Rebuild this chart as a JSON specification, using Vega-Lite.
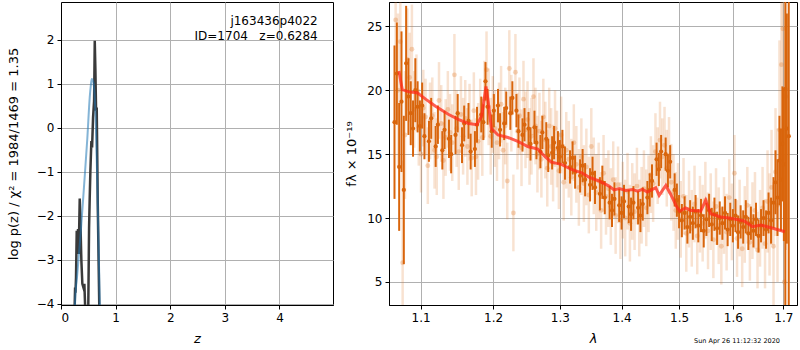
{
"$schema": "https://vega.github.io/schema/vega-lite/v6.json",
"padding": {"left": 6, "top": 1, "right": 2, "bottom": 2},
"background": "white",
"spacing": 56,
"bounds": "flush",
"config": {
 "font": "DejaVu Sans",
 "view": {"stroke": "black", "strokeWidth": 1},
 "axis": {"domainColor": "black", "tickColor": "black", "tickSize": 4, "labelFontSize": 12, "labelColor": "black", "titleFontSize": 13, "titleFontWeight": "normal", "titleColor": "black", "gridColor": "#b0b0b0", "gridOpacity": 1, "gridWidth": 1, "labelPadding": 3}
},
"datasets": {
 "chi": [
  {"z":0.24,"v":-6},{"z":0.251,"v":-4.0},{"z":0.258,"v":-3.63},{"z":0.265,"v":-3.75},{"z":0.275,"v":-3.4},{"z":0.288,"v":-2.34},{"z":0.30,"v":-2.87},{"z":0.312,"v":-2.3},{"z":0.324,"v":-2.87},{"z":0.343,"v":-1.61},{"z":0.355,"v":-2.11},{"z":0.373,"v":-3.02},{"z":0.391,"v":-3.55},{"z":0.41,"v":-3.63},{"z":0.428,"v":-3.55},{"z":0.44,"v":-4.0},{"z":0.45,"v":-5.5},{"z":0.49,"v":-5.5},{"z":0.50,"v":-4.0},{"z":0.514,"v":-2.27},{"z":0.526,"v":-1.58},{"z":0.538,"v":-0.98},{"z":0.556,"v":-0.3},{"z":0.569,"v":-0.45},{"z":0.587,"v":0.23},{"z":0.606,"v":0.61},{"z":0.618,"v":1.98},{"z":0.63,"v":1.3},{"z":0.642,"v":0.39},{"z":0.654,"v":0.46},{"z":0.673,"v":-1.73},{"z":0.70,"v":-4.0},{"z":0.71,"v":-6}
 ],
 "pz": [
  {"z":0.22,"v":-6},{"z":0.257,"v":-4.0},{"z":0.30,"v":-3.3},{"z":0.36,"v":-2.4},{"z":0.42,"v":-1.36},{"z":0.483,"v":-0.22},{"z":0.526,"v":0.69},{"z":0.545,"v":0.95},{"z":0.563,"v":1.107},{"z":0.585,"v":1.07},{"z":0.605,"v":0.92},{"z":0.636,"v":0.16},{"z":0.667,"v":-1.36},{"z":0.691,"v":-2.87},{"z":0.71,"v":-4.0},{"z":0.72,"v":-5}
 ],
 "lab": [
  {"z":4.7,"v":2.43,"t":"j163436p4022"},
  {"z":4.7,"v":2.09,"t":"ID=1704\u00a0\u00a0\u00a0z=0.6284"}
 ],
 "stamp": [{"l":1.608,"f":0.39,"t":"Sun Apr 26 11:12:32 2020"}],
 "model": [
  {"l":1.0717,"f":21.5},{"l":1.076,"f":20.05},{"l":1.0847,"f":19.87},{"l":1.0955,"f":19.8},{"l":1.1066,"f":19.3},{"l":1.1198,"f":18.75},{"l":1.1377,"f":18.1},{"l":1.1514,"f":17.7},{"l":1.1651,"f":17.4},{"l":1.1766,"f":17.3},{"l":1.1836,"f":17.97},{"l":1.1897,"f":20.3},{"l":1.1929,"f":19.1},{"l":1.1975,"f":17.0},{"l":1.207,"f":16.5},{"l":1.2216,"f":16.3},{"l":1.236,"f":16.0},{"l":1.251,"f":15.6},{"l":1.266,"f":15.4},{"l":1.2763,"f":14.84},{"l":1.2867,"f":14.37},{"l":1.3024,"f":14.2},{"l":1.3184,"f":13.8},{"l":1.3346,"f":13.54},{"l":1.346,"f":13.2},{"l":1.3625,"f":12.9},{"l":1.379,"f":12.5},{"l":1.3874,"f":12.2},{"l":1.396,"f":12.3},{"l":1.4072,"f":12.16},{"l":1.4185,"f":12.24},{"l":1.427,"f":12.1},{"l":1.4355,"f":12.24},{"l":1.4441,"f":12.03},{"l":1.4528,"f":12.24},{"l":1.4586,"f":12.37},{"l":1.4645,"f":11.77},{"l":1.4763,"f":12.55},{"l":1.4851,"f":11.85},{"l":1.495,"f":10.94},{"l":1.501,"f":10.55},{"l":1.5118,"f":10.8},{"l":1.521,"f":10.6},{"l":1.527,"f":10.6},{"l":1.5394,"f":10.55},{"l":1.5487,"f":11.4},{"l":1.558,"f":10.34},{"l":1.577,"f":10.08},{"l":1.596,"f":9.98},{"l":1.622,"f":9.77},{"l":1.638,"f":9.32},{"l":1.655,"f":9.45},{"l":1.675,"f":9.24},{"l":1.703,"f":8.93}
 ],
 "dark": [
  {"l":1.066,"f":17.5,"e":6},{"l":1.069,"f":21.3,"e":4},{"l":1.072,"f":14.0,"e":5},{"l":1.075,"f":19.1,"e":5.5},{"l":1.078,"f":12.2,"e":5.8},{"l":1.081,"f":22.1,"e":4.5},{"l":1.084,"f":19.5,"e":3},{"l":1.087,"f":18.2,"e":2.5},{"l":1.09,"f":17.0,"e":2.2},{"l":1.093,"f":20.0,"e":2.5},{"l":1.096,"f":18.7,"e":2},{"l":1.099,"f":17.2,"e":2},{"l":1.102,"f":18.8,"e":1.8},{"l":1.105,"f":16.4,"e":1.8},{"l":1.111,"f":16.0,"e":1.6},{"l":1.114,"f":17.8,"e":1.6},{"l":1.12,"f":15.6,"e":1.6},{"l":1.123,"f":17.3,"e":1.5},{"l":1.129,"f":15.3,"e":1.5},{"l":1.132,"f":16.9,"e":1.5},{"l":1.138,"f":16.2,"e":1.5},{"l":1.141,"f":15.0,"e":1.5},{"l":1.147,"f":16.5,"e":1.5},{"l":1.15,"f":18.2,"e":1.5},{"l":1.156,"f":15.7,"e":1.4},{"l":1.159,"f":17.4,"e":1.4},{"l":1.165,"f":17.6,"e":1.4},{"l":1.168,"f":15.2,"e":1.4},{"l":1.174,"f":15.4,"e":1.4},{"l":1.177,"f":17.3,"e":1.4},{"l":1.183,"f":18.1,"e":1.4},{"l":1.186,"f":17.5,"e":1.4},{"l":1.189,"f":20.7,"e":1.5},{"l":1.192,"f":18.7,"e":1.4},{"l":1.198,"f":16.8,"e":1.3},{"l":1.201,"f":18.4,"e":1.3},{"l":1.207,"f":18.8,"e":1.3},{"l":1.21,"f":16.9,"e":1.3},{"l":1.216,"f":17.4,"e":1.3},{"l":1.219,"f":18.6,"e":1.3},{"l":1.225,"f":18.2,"e":1.3},{"l":1.228,"f":19.4,"e":1.3},{"l":1.234,"f":18.4,"e":1.3},{"l":1.237,"f":16.8,"e":1.3},{"l":1.243,"f":16.5,"e":1.3},{"l":1.246,"f":17.3,"e":1.3},{"l":1.252,"f":17.0,"e":1.3},{"l":1.255,"f":15.8,"e":1.3},{"l":1.261,"f":17.1,"e":1.3},{"l":1.264,"f":15.9,"e":1.3},{"l":1.27,"f":15.2,"e":1.3},{"l":1.273,"f":16.7,"e":1.3},{"l":1.279,"f":16.2,"e":1.3},{"l":1.282,"f":14.9,"e":1.3},{"l":1.288,"f":15.1,"e":1.3},{"l":1.291,"f":15.9,"e":1.3},{"l":1.297,"f":15.5,"e":1.3},{"l":1.3,"f":14.8,"e":1.3},{"l":1.304,"f":15.6,"e":1.3},{"l":1.308,"f":14.3,"e":1.3},{"l":1.316,"f":14.0,"e":1.3},{"l":1.32,"f":14.7,"e":1.3},{"l":1.324,"f":13.6,"e":1.3},{"l":1.332,"f":13.3,"e":1.3},{"l":1.336,"f":14.1,"e":1.3},{"l":1.34,"f":13.0,"e":1.3},{"l":1.348,"f":12.6,"e":1.3},{"l":1.352,"f":13.5,"e":1.3},{"l":1.356,"f":12.4,"e":1.3},{"l":1.364,"f":11.9,"e":1.3},{"l":1.368,"f":12.8,"e":1.3},{"l":1.372,"f":11.6,"e":1.3},{"l":1.38,"f":11.2,"e":1.3},{"l":1.384,"f":10.6,"e":1.3},{"l":1.388,"f":11.5,"e":1.3},{"l":1.396,"f":11.0,"e":1.3},{"l":1.4,"f":10.4,"e":1.3},{"l":1.404,"f":11.3,"e":1.3},{"l":1.412,"f":10.9,"e":1.3},{"l":1.416,"f":10.3,"e":1.3},{"l":1.42,"f":11.2,"e":1.3},{"l":1.428,"f":10.8,"e":1.3},{"l":1.432,"f":10.2,"e":1.3},{"l":1.436,"f":11.1,"e":1.3},{"l":1.444,"f":11.6,"e":1.3},{"l":1.448,"f":12.2,"e":1.3},{"l":1.452,"f":12.9,"e":1.3},{"l":1.46,"f":14.6,"e":1.3},{"l":1.464,"f":13.8,"e":1.3},{"l":1.468,"f":15.2,"e":1.3},{"l":1.476,"f":15.0,"e":1.3},{"l":1.48,"f":13.7,"e":1.3},{"l":1.484,"f":14.4,"e":1.3},{"l":1.492,"f":12.2,"e":1.3},{"l":1.496,"f":11.4,"e":1.3},{"l":1.5,"f":10.5,"e":1.3},{"l":1.505,"f":9.8,"e":1.3},{"l":1.51,"f":10.4,"e":1.3},{"l":1.515,"f":9.3,"e":1.3},{"l":1.52,"f":10.1,"e":1.3},{"l":1.525,"f":9.6,"e":1.3},{"l":1.53,"f":10.5,"e":1.3},{"l":1.535,"f":9.4,"e":1.3},{"l":1.54,"f":10.2,"e":1.3},{"l":1.545,"f":9.0,"e":1.3},{"l":1.55,"f":9.9,"e":1.3},{"l":1.555,"f":10.6,"e":1.3},{"l":1.56,"f":9.5,"e":1.3},{"l":1.565,"f":10.3,"e":1.3},{"l":1.57,"f":9.2,"e":1.3},{"l":1.575,"f":10.0,"e":1.3},{"l":1.58,"f":9.6,"e":1.3},{"l":1.585,"f":10.4,"e":1.3},{"l":1.59,"f":9.1,"e":1.3},{"l":1.595,"f":9.9,"e":1.3},{"l":1.6,"f":9.4,"e":1.3},{"l":1.605,"f":10.2,"e":1.3},{"l":1.61,"f":8.9,"e":1.3},{"l":1.615,"f":9.7,"e":1.3},{"l":1.62,"f":9.3,"e":1.3},{"l":1.625,"f":10.1,"e":1.3},{"l":1.63,"f":8.8,"e":1.3},{"l":1.635,"f":9.6,"e":1.3},{"l":1.64,"f":9.0,"e":1.3},{"l":1.645,"f":9.9,"e":1.3},{"l":1.65,"f":8.6,"e":1.3},{"l":1.655,"f":9.4,"e":1.3},{"l":1.66,"f":10.0,"e":1.4},{"l":1.665,"f":9.1,"e":1.5},{"l":1.67,"f":10.4,"e":1.6},{"l":1.675,"f":9.8,"e":1.8},{"l":1.68,"f":11.2,"e":2},{"l":1.684,"f":12.8,"e":2.5},{"l":1.688,"f":11.6,"e":3},{"l":1.692,"f":14.5,"e":3.5},{"l":1.695,"f":13.0,"e":4},{"l":1.698,"f":15.8,"e":4.5},{"l":1.701,"f":14.2,"e":6},{"l":1.704,"f":20.1,"e":18},{"l":1.707,"f":17.0,"e":9},{"l":1.711,"f":16.4,"e":25}
 ],
 "light": [
  {"l":1.0675,"f":25.5,"e":8},{"l":1.0705,"f":20.0,"e":6},{"l":1.0735,"f":23.8,"e":5},{"l":1.0765,"f":6.5,"e":8},{"l":1.0795,"f":16.5,"e":5},{"l":1.0825,"f":22.4,"e":4},{"l":1.0855,"f":21.0,"e":3.5},{"l":1.0885,"f":23.2,"e":3.5},{"l":1.0915,"f":18.5,"e":3},{"l":1.0945,"f":19.8,"e":3},{"l":1.0975,"f":17.1,"e":3},{"l":1.1005,"f":15.0,"e":3},{"l":1.1035,"f":18.6,"e":3},{"l":1.1065,"f":17.9,"e":3},{"l":1.1095,"f":14.1,"e":3},{"l":1.1125,"f":17.6,"e":3},{"l":1.1155,"f":18.0,"e":3},{"l":1.1185,"f":15.3,"e":3},{"l":1.1215,"f":14.8,"e":3},{"l":1.1245,"f":19.2,"e":3},{"l":1.1275,"f":17.4,"e":3},{"l":1.1305,"f":14.5,"e":3},{"l":1.1335,"f":16.3,"e":3},{"l":1.1365,"f":18.5,"e":3},{"l":1.1395,"f":16.7,"e":3},{"l":1.1425,"f":15.9,"e":3},{"l":1.1455,"f":21.2,"e":3.2},{"l":1.1485,"f":17.0,"e":3},{"l":1.1515,"f":15.2,"e":3},{"l":1.1545,"f":18.1,"e":3},{"l":1.1575,"f":16.4,"e":3},{"l":1.1605,"f":17.8,"e":3},{"l":1.1635,"f":15.6,"e":3},{"l":1.1665,"f":17.5,"e":3},{"l":1.1695,"f":14.7,"e":3},{"l":1.1725,"f":18.4,"e":3},{"l":1.1755,"f":14.8,"e":3},{"l":1.1785,"f":16.0,"e":3},{"l":1.1815,"f":17.9,"e":3},{"l":1.1845,"f":16.3,"e":3},{"l":1.1875,"f":19.3,"e":3},{"l":1.1905,"f":21.6,"e":3},{"l":1.1935,"f":18.7,"e":3},{"l":1.1965,"f":16.4,"e":3},{"l":1.1995,"f":18.1,"e":3},{"l":1.2025,"f":17.0,"e":3},{"l":1.2055,"f":15.9,"e":3},{"l":1.2085,"f":17.6,"e":3},{"l":1.2115,"f":18.9,"e":3},{"l":1.2145,"f":15.3,"e":3},{"l":1.2175,"f":17.2,"e":3},{"l":1.2205,"f":12.9,"e":3},{"l":1.2235,"f":21.7,"e":3},{"l":1.2265,"f":18.2,"e":3},{"l":1.2295,"f":10.4,"e":3},{"l":1.2325,"f":21.4,"e":3},{"l":1.2355,"f":16.8,"e":3},{"l":1.2385,"f":18.0,"e":3},{"l":1.2415,"f":15.5,"e":3},{"l":1.2445,"f":19.3,"e":3},{"l":1.2475,"f":16.9,"e":3},{"l":1.2505,"f":17.7,"e":3},{"l":1.2535,"f":15.6,"e":3},{"l":1.2565,"f":16.4,"e":3},{"l":1.2595,"f":19.5,"e":3},{"l":1.2625,"f":17.2,"e":3},{"l":1.2655,"f":15.0,"e":3},{"l":1.2685,"f":16.8,"e":3},{"l":1.2715,"f":14.6,"e":3},{"l":1.2745,"f":17.9,"e":3},{"l":1.2775,"f":16.1,"e":3},{"l":1.2805,"f":13.9,"e":3},{"l":1.2835,"f":17.2,"e":3},{"l":1.2865,"f":15.6,"e":3},{"l":1.2895,"f":14.3,"e":3},{"l":1.2925,"f":17.0,"e":3},{"l":1.2955,"f":15.4,"e":3},{"l":1.2985,"f":13.7,"e":3},{"l":1.302,"f":16.5,"e":3},{"l":1.306,"f":12.8,"e":3},{"l":1.31,"f":15.3,"e":3},{"l":1.314,"f":14.6,"e":3},{"l":1.318,"f":13.2,"e":3},{"l":1.322,"f":15.9,"e":3},{"l":1.326,"f":14.2,"e":3},{"l":1.33,"f":12.4,"e":3},{"l":1.334,"f":14.8,"e":3},{"l":1.338,"f":12.7,"e":3},{"l":1.342,"f":14.0,"e":3},{"l":1.346,"f":11.8,"e":3},{"l":1.35,"f":15.6,"e":3},{"l":1.354,"f":13.3,"e":3},{"l":1.358,"f":12.0,"e":3},{"l":1.362,"f":12.9,"e":3},{"l":1.366,"f":10.6,"e":3},{"l":1.37,"f":13.5,"e":3},{"l":1.374,"f":11.7,"e":3},{"l":1.378,"f":12.3,"e":3},{"l":1.382,"f":10.9,"e":3},{"l":1.386,"f":13.0,"e":3},{"l":1.39,"f":10.2,"e":3},{"l":1.394,"f":12.6,"e":3},{"l":1.398,"f":9.8,"e":3},{"l":1.402,"f":11.4,"e":3},{"l":1.406,"f":10.0,"e":3},{"l":1.41,"f":12.1,"e":3},{"l":1.414,"f":9.6,"e":3},{"l":1.418,"f":11.3,"e":3},{"l":1.422,"f":10.5,"e":3},{"l":1.426,"f":12.5,"e":3},{"l":1.43,"f":10.0,"e":3},{"l":1.434,"f":11.0,"e":3},{"l":1.438,"f":12.3,"e":3},{"l":1.442,"f":10.8,"e":3},{"l":1.446,"f":11.9,"e":3},{"l":1.45,"f":13.4,"e":3},{"l":1.454,"f":12.7,"e":3},{"l":1.458,"f":15.2,"e":3},{"l":1.462,"f":14.1,"e":3},{"l":1.466,"f":16.1,"e":3},{"l":1.47,"f":14.8,"e":3},{"l":1.474,"f":15.7,"e":3},{"l":1.478,"f":13.9,"e":3},{"l":1.482,"f":14.9,"e":3},{"l":1.486,"f":12.8,"e":3},{"l":1.49,"f":12.0,"e":3},{"l":1.494,"f":10.6,"e":3},{"l":1.498,"f":11.3,"e":3},{"l":1.503,"f":9.9,"e":3},{"l":1.508,"f":11.7,"e":3},{"l":1.513,"f":8.8,"e":3},{"l":1.518,"f":10.7,"e":3},{"l":1.523,"f":9.2,"e":3},{"l":1.528,"f":11.1,"e":3},{"l":1.533,"f":8.6,"e":3},{"l":1.538,"f":10.3,"e":3},{"l":1.543,"f":9.6,"e":3},{"l":1.548,"f":11.4,"e":3},{"l":1.553,"f":9.0,"e":3},{"l":1.558,"f":10.5,"e":3},{"l":1.563,"f":8.3,"e":3},{"l":1.568,"f":10.9,"e":3},{"l":1.573,"f":9.4,"e":3},{"l":1.578,"f":7.8,"e":3},{"l":1.583,"f":10.2,"e":3},{"l":1.588,"f":8.9,"e":3},{"l":1.593,"f":11.6,"e":3},{"l":1.598,"f":9.7,"e":3},{"l":1.603,"f":13.5,"e":3},{"l":1.608,"f":8.4,"e":3},{"l":1.613,"f":10.0,"e":3},{"l":1.618,"f":7.6,"e":3},{"l":1.623,"f":9.5,"e":3},{"l":1.628,"f":11.0,"e":3},{"l":1.633,"f":8.1,"e":3},{"l":1.638,"f":9.8,"e":3},{"l":1.643,"f":10.6,"e":3},{"l":1.648,"f":7.5,"e":3},{"l":1.653,"f":9.2,"e":3},{"l":1.658,"f":10.8,"e":3.2},{"l":1.663,"f":8.0,"e":3.5},{"l":1.668,"f":11.3,"e":4},{"l":1.672,"f":9.5,"e":4},{"l":1.676,"f":12.4,"e":4.5},{"l":1.68,"f":7.8,"e":5},{"l":1.684,"f":13.6,"e":5},{"l":1.688,"f":11.0,"e":6},{"l":1.692,"f":16.9,"e":7},{"l":1.696,"f":22.0,"e":8},{"l":1.699,"f":24.8,"e":9},{"l":1.702,"f":5.0,"e":10},{"l":1.705,"f":19.5,"e":12}
 ]
},
"hconcat": [
 {
  "width": 272, "height": 303,
  "encoding": {
   "x": {"field": "z", "type": "quantitative", "scale": {"domain": [0, 4.98], "nice": false, "zero": false}, "axis": {"values": [0,1,2,3,4], "title": "z", "titleFontStyle": "italic", "titlePadding": 9}},
   "y": {"field": "v", "type": "quantitative", "scale": {"domain": [-4.03, 2.86], "nice": false, "zero": false}, "axis": {"values": [-4,-3,-2,-1,0,1,2], "title": "log p(z) / χ² = 1984/1469 = 1.35", "titlePadding": 16}}
  },
  "layer": [
   {"data": {"name": "chi"}, "mark": {"type": "line", "color": "#3a3a3a", "strokeWidth": 2.5, "clip": true}},
   {"data": {"name": "pz"}, "mark": {"type": "line", "color": "#1f77b4", "opacity": 0.55, "strokeWidth": 2, "interpolate": "monotone", "clip": true}},
   {"data": {"name": "lab"}, "mark": {"type": "text", "align": "right", "baseline": "middle", "fontSize": 12, "color": "black"}, "encoding": {"text": {"field": "t"}}}
  ]
 },
 {
  "width": 408, "height": 303,
  "encoding": {
   "x": {"field": "l", "type": "quantitative", "scale": {"type": "log", "domain": [1.059, 1.728], "nice": false}, "axis": {"values": [1.1,1.2,1.3,1.4,1.5,1.6,1.7], "format": ".1f", "title": "λ", "titleFontStyle": "italic", "titlePadding": 9}},
   "y": {"field": "f", "type": "quantitative", "scale": {"domain": [3.2, 26.9], "nice": false, "zero": false}, "axis": {"values": [5,10,15,20,25], "title": "fλ × 10⁻¹⁹", "titlePadding": 8}}
  },
  "layer": [
   {"data": {"name": "light"}, "mark": {"type": "errorbar", "color": "#e07a2c", "opacity": 0.22, "thickness": 2.5, "clip": true}, "encoding": {"yError": {"field": "e"}}},
   {"data": {"name": "light"}, "mark": {"type": "point", "filled": true, "color": "#e07a2c", "opacity": 0.3, "size": 24, "clip": true}},
   {"data": {"name": "dark"}, "mark": {"type": "errorbar", "color": "#d9650c", "opacity": 1, "thickness": 2, "clip": true}, "encoding": {"yError": {"field": "e"}}},
   {"data": {"name": "dark"}, "mark": {"type": "point", "filled": true, "color": "#d9650c", "opacity": 1, "size": 18, "clip": true}},
   {"data": {"name": "model"}, "mark": {"type": "line", "color": "#ff2a1a", "opacity": 0.75, "strokeWidth": 3, "clip": true}},
   {"data": {"name": "stamp"}, "mark": {"type": "text", "fontSize": 6.5, "color": "black", "align": "center", "baseline": "middle"}, "encoding": {"text": {"field": "t"}}}
  ]
 }
]
}
